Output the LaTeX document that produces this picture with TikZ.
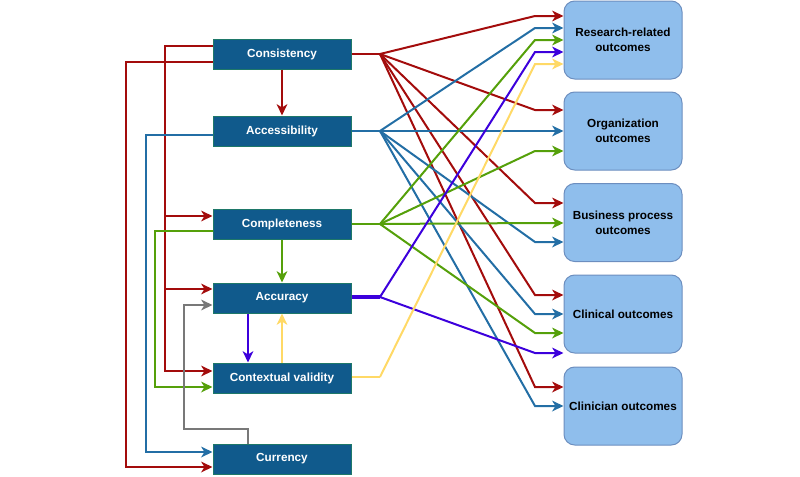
\documentclass[tikz,border=0pt]{standalone}
\usepackage{fontspec}
\setmainfont{Liberation Sans}
\usetikzlibrary{arrows.meta}
\definecolor{cred}{RGB}{163,12,12}
\definecolor{cblue}{RGB}{35,110,165}
\definecolor{cgreen}{RGB}{85,160,10}
\definecolor{cpurple}{RGB}{60,0,220}
\definecolor{cyellow}{RGB}{255,217,102}
\definecolor{cgray}{RGB}{120,120,120}
\definecolor{dqfill}{RGB}{16,90,140}
\definecolor{dqborder}{RGB}{30,120,105}
\definecolor{ocfill}{RGB}{143,190,236}
\definecolor{ocborder}{RGB}{108,142,191}
\begin{document}
\begin{tikzpicture}[x=0.75pt,y=-0.75pt,
  dq/.style={draw=dqborder, fill=dqfill, text=white, font=\fontsize{8.8}{10}\selectfont\bfseries,
    minimum width=103.5pt, minimum height=22.5pt, inner sep=0pt, line width=0.75pt},
  oc/.style={draw=ocborder, fill=ocfill, text=black, font=\fontsize{8.8}{11}\selectfont\bfseries,
    minimum width=88.5pt, minimum height=58.5pt, inner sep=0pt, align=center, rounded corners=8pt, line width=0.75pt},
  ln/.style={line width=1.5pt},
  arr/.style={-{Stealth[length=8.5pt,width=8pt,inset=2.5pt]}},
  cr/.style={ln, draw=cred, color=cred},
  cb/.style={ln, draw=cblue, color=cblue},
  cg/.style={ln, draw=cgreen, color=cgreen},
  cp/.style={ln, draw=cpurple, color=cpurple},
  cy/.style={ln, draw=cyellow, color=cyellow},
  cgr/.style={ln, draw=cgray, color=cgray}]
\useasboundingbox (0,0) rectangle (800,476);

% left boxes
\node[dq] (C) at (282,54) {Consistency};
\node[dq] (A) at (282,131) {Accessibility};
\node[dq] (P) at (282,224) {Completeness};
\node[dq] (U) at (282,298) {Accuracy};
\node[dq] (V) at (282,378) {Contextual validity};
\node[dq] (Y) at (282,459) {Currency};

% right boxes
\node[oc] (R1) at (623,40) {Research-related\\outcomes};
\node[oc] (R2) at (623,131) {Organization\\outcomes};
\node[oc] (R3) at (623,222.5) {Business process\\outcomes};
\node[oc] (R4) at (623,314) {Clinical outcomes};
\node[oc] (R5) at (623,406) {Clinician outcomes};

% fan points
\coordinate (fC) at (380,54);
\coordinate (fA) at (380,131);
\coordinate (fP) at (380,224);
\coordinate (fU) at (380,297);
\coordinate (fV) at (380,377);

% Consistency fan
\draw[cr] (C.east) -- (fC);
\foreach \t/\y in {R1/16, R2/110, R3/203, R4/295, R5/387}
  {\draw[cr,arr] (fC) -- (535,\y) -- (\t.west |- 0,\y);}
% Accessibility fan
\draw[cb] (A.east) -- (fA);
\foreach \t/\y in {R1/28, R2/131, R3/242, R4/314, R5/406}
  {\draw[cb,arr] (fA) -- (535,\y) -- (\t.west |- 0,\y);}
% Completeness fan
\draw[cg] (P.east) -- (fP);
\foreach \t/\y in {R1/40, R2/151, R3/223, R4/333}
  {\draw[cg,arr] (fP) -- (535,\y) -- (\t.west |- 0,\y);}
% Accuracy fan
\draw[cp, line width=3pt] (U.east |- fU) -- (fU);
\foreach \t/\y in {R1/52, R4/353}
  {\draw[cp,arr] (fU) -- (535,\y) -- (\t.west |- 0,\y);}
% Contextual validity fan
\draw[cy] (V.east |- fV) -- (fV);
\draw[cy,arr] (fV) -- (535,64) -- (R1.west |- 0,64);

% vertical links
\draw[cr,arr] (C.south) -- (A.north);
\draw[cg,arr] (P.south) -- (U.north);
\draw[cy,arr] (V.north) -- (U.south);
\draw[cp,arr] (U.south -| 248,0) -- (V.north -| 248,0);

% left side links
\coordinate (r1a) at (165,46);
\coordinate (r1b) at (165,216);
\coordinate (r1c) at (165,289);
\coordinate (r1d) at (165,371);
\draw[cr,arr] (C.west |- r1a) -- (r1a) -- (r1d) -- (V.west |- r1d);
\draw[cr,arr] (r1b) -- (P.west |- r1b);
\draw[cr,arr] (r1c) -- (U.west |- r1c);

\coordinate (r2a) at (126,62);
\coordinate (r2b) at (126,467);
\draw[cr,arr] (C.west |- r2a) -- (r2a) -- (r2b) -- (Y.west |- r2b);

\coordinate (b1a) at (146,135);
\coordinate (b1b) at (146,452);
\draw[cb,arr] (A.west |- b1a) -- (b1a) -- (b1b) -- (Y.west |- b1b);

\coordinate (g1a) at (155,231);
\coordinate (g1b) at (155,387);
\draw[cg,arr] (P.west |- g1a) -- (g1a) -- (g1b) -- (V.west |- g1b);

\coordinate (k1) at (248,429);
\coordinate (k2) at (184,429);
\coordinate (k3) at (184,305);
\draw[cgr,arr] (Y.north -| k1) -- (k1) -- (k2) -- (k3) -- (U.west |- k3);
\end{tikzpicture}
\end{document}
